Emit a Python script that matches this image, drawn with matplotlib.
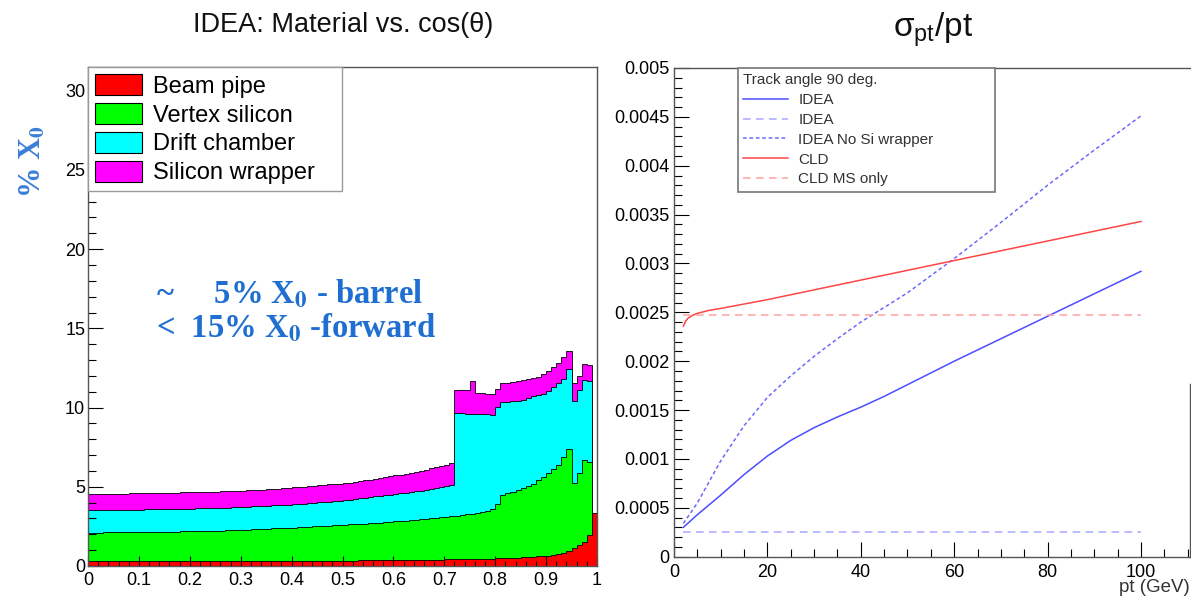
import numpy as np
import matplotlib
matplotlib.use("Agg")
import matplotlib.pyplot as plt
from matplotlib.patches import Patch
from matplotlib.ticker import MultipleLocator, FormatStrFormatter

plt.rcParams["font.family"] = ["Liberation Sans", "DejaVu Sans"]
plt.rcParams["mathtext.fontset"] = "custom"
plt.rcParams["mathtext.rm"] = "Liberation Sans"
plt.rcParams["mathtext.it"] = "Liberation Sans:italic"

# ---- left: material vs cos(theta), stacked tops per 0.01 bin ----
edges = np.linspace(0, 1, 101)
top_beampipe = [
    0.30, 0.30, 0.30, 0.30, 0.30, 0.30, 0.30, 0.30, 0.30, 0.30,
    0.30, 0.30, 0.30, 0.30, 0.30, 0.30, 0.30, 0.30, 0.31, 0.31,
    0.31, 0.31, 0.31, 0.31, 0.31, 0.31, 0.31, 0.31, 0.31, 0.31,
    0.31, 0.31, 0.32, 0.32, 0.32, 0.32, 0.32, 0.32, 0.32, 0.32,
    0.33, 0.33, 0.33, 0.33, 0.33, 0.33, 0.33, 0.33, 0.34, 0.34,
    0.34, 0.34, 0.34, 0.35, 0.35, 0.35, 0.36, 0.36, 0.36, 0.37,
    0.37, 0.37, 0.38, 0.38, 0.39, 0.39, 0.40, 0.40, 0.41, 0.41,
    0.42, 0.42, 0.43, 0.43, 0.44, 0.44, 0.45, 0.45, 0.46, 0.47,
    0.48, 0.49, 0.50, 0.51, 0.52, 0.54, 0.56, 0.58, 0.60, 0.63,
    0.66, 0.70, 0.75, 0.82, 0.95, 1.12, 1.35, 1.50, 1.95, 3.35]
top_vertex = [
    2.11, 2.11, 2.11, 2.12, 2.12, 2.12, 2.13, 2.13, 2.13, 2.14,
    2.14, 2.14, 2.15, 2.15, 2.16, 2.16, 2.17, 2.17, 2.18, 2.18,
    2.19, 2.20, 2.20, 2.21, 2.22, 2.23, 2.24, 2.25, 2.26, 2.27,
    2.28, 2.29, 2.31, 2.32, 2.34, 2.35, 2.37, 2.38, 2.40, 2.41,
    2.43, 2.45, 2.46, 2.48, 2.50, 2.51, 2.53, 2.55, 2.57, 2.58,
    2.60, 2.62, 2.64, 2.66, 2.68, 2.70, 2.72, 2.74, 2.77, 2.79,
    2.82, 2.84, 2.87, 2.89, 2.92, 2.95, 2.98, 3.01, 3.05, 3.08,
    3.12, 3.16, 3.18, 3.22, 3.26, 3.30, 3.36, 3.42, 3.50, 3.59,
    3.90, 4.50, 4.60, 4.70, 4.80, 4.90, 5.05, 5.20, 5.40, 5.60,
    5.90, 6.10, 6.39, 6.86, 7.38, 5.27, 5.84, 6.69, 6.54, 3.35]
top_drift = [
    3.52, 3.52, 3.52, 3.53, 3.53, 3.54, 3.54, 3.55, 3.55, 3.56,
    3.56, 3.57, 3.57, 3.58, 3.58, 3.59, 3.59, 3.60, 3.60, 3.61,
    3.62, 3.63, 3.64, 3.65, 3.66, 3.67, 3.68, 3.69, 3.70, 3.71,
    3.73, 3.74, 3.76, 3.77, 3.79, 3.80, 3.82, 3.84, 3.86, 3.88,
    3.90, 3.92, 3.94, 3.97, 3.99, 4.02, 4.04, 4.07, 4.10, 4.13,
    4.16, 4.19, 4.23, 4.27, 4.31, 4.35, 4.39, 4.43, 4.47, 4.51,
    4.55, 4.59, 4.63, 4.67, 4.71, 4.75, 4.80, 4.86, 4.92, 4.99,
    5.06, 5.13, 9.64, 9.63, 9.62, 9.61, 9.60, 9.58, 9.57, 9.56,
    10.02, 10.34, 10.38, 10.41, 10.44, 10.50, 10.60, 10.70, 10.78, 10.87,
    11.05, 11.30, 11.54, 11.80, 12.45, 10.40, 11.08, 11.75, 11.70, 3.35]
top_wrapper = [
    4.54, 4.54, 4.55, 4.55, 4.56, 4.56, 4.57, 4.57, 4.58, 4.58,
    4.59, 4.59, 4.60, 4.60, 4.61, 4.62, 4.62, 4.63, 4.64, 4.65,
    4.65, 4.66, 4.67, 4.68, 4.69, 4.70, 4.71, 4.72, 4.73, 4.74,
    4.75, 4.77, 4.78, 4.80, 4.82, 4.84, 4.86, 4.88, 4.91, 4.93,
    4.96, 4.98, 5.01, 5.03, 5.06, 5.09, 5.12, 5.15, 5.18, 5.20,
    5.23, 5.27, 5.31, 5.36, 5.40, 5.45, 5.50, 5.55, 5.61, 5.66,
    5.72, 5.77, 5.83, 5.89, 5.95, 6.01, 6.08, 6.16, 6.24, 6.32,
    6.40, 6.50, 11.12, 11.12, 11.12, 11.67, 10.95, 10.90, 10.85, 10.85,
    11.18, 11.54, 11.58, 11.62, 11.67, 11.72, 11.78, 11.85, 11.95, 12.13,
    12.30, 12.55, 12.80, 13.19, 13.57, 11.54, 12.02, 12.76, 12.66, 3.35]
mat_labels = ["Beam pipe", "Vertex silicon", "Drift chamber", "Silicon wrapper"]
mat_colors = ["#ff0000", "#00ff00", "#00ffff", "#ff00ff"]

# ---- right: sigma_pt/pt vs pt ----
pt_idea = [2, 5, 10, 15, 20, 25, 30, 35, 40, 45, 50, 60, 70, 80, 90, 100]
sig_idea = [0.00030, 0.00043, 0.00063, 0.00084, 0.00103, 0.00119, 0.00132, 0.00143,
            0.00153, 0.00164, 0.00176, 0.00200, 0.00223, 0.00246, 0.00269, 0.00292]
sig_nosi = [0.00034, 0.00055, 0.00098, 0.00134, 0.00163, 0.00185, 0.00205, 0.00223,
            0.00240, 0.00255, 0.00270, 0.00305, 0.00342, 0.00380, 0.00416, 0.00451]
pt_ms = [2, 100]
sig_idea_ms = [0.000257, 0.000257]
sig_cld_ms = [0.00247, 0.00247]
pt_cld = [2, 2.5, 3, 4, 5, 7.5, 10, 15, 20, 30, 40, 50, 60, 70, 80, 90, 100]
sig_cld = [0.00236, 0.00241, 0.00244, 0.00247, 0.00249, 0.00252, 0.00254, 0.002585,
           0.00263, 0.00273, 0.00283, 0.00293, 0.00303, 0.00313, 0.00323, 0.00333, 0.00343]

W, H = 1191, 607
fig = plt.figure(figsize=(W / 100, H / 100), dpi=100)
fig.patch.set_facecolor("white")

# left panel
ax1 = fig.add_axes([88 / W, (H - 566) / H, 509 / W, 499 / H])
tops = [top_beampipe, top_vertex, top_drift, top_wrapper]
for top, col in reversed(list(zip(tops, mat_colors))):
    ax1.stairs(top, edges, baseline=0, fill=True, facecolor=col,
               edgecolor="black", linewidth=0.6)
ax1.set_xlim(0, 1)
ax1.set_ylim(0, 31.5)
ax1.xaxis.set_major_locator(MultipleLocator(0.1))
ax1.xaxis.set_minor_locator(MultipleLocator(0.02))
ax1.yaxis.set_major_locator(MultipleLocator(5))
ax1.yaxis.set_minor_locator(MultipleLocator(1))
ax1.xaxis.set_major_formatter(FormatStrFormatter("%g"))
ax1.yaxis.set_major_formatter(FormatStrFormatter("%g"))
ax1.tick_params(axis="y", which="major", direction="in", length=10.5, width=0.8, labelsize=13, pad=2)
ax1.tick_params(axis="y", which="minor", direction="in", length=5.5, width=0.8)
ax1.tick_params(axis="x", which="major", direction="in", length=7, width=0.8, labelsize=13, pad=4)
ax1.tick_params(axis="x", which="minor", direction="in", length=3.5, width=0.8)
for s in ax1.spines.values():
    s.set_color("#555555"); s.set_linewidth(1.0)

hs = [Patch(facecolor=c, edgecolor="black", linewidth=0.8) for c in mat_colors]
leg1 = ax1.legend(hs, mat_labels, loc="upper left", bbox_to_anchor=(0, 0, 0.499, 1),
                  mode="expand", borderaxespad=0,
                  fontsize=17, fancybox=False, edgecolor="#999999", framealpha=1,
                  handlelength=2.0, handleheight=1.0, handletextpad=0.45,
                  labelspacing=0.22, borderpad=0.3)
leg1.get_frame().set_linewidth(1.0)

fig.text(343 / W, 1 - 25 / H, "IDEA: Material vs. cos(θ)", ha="center", va="center",
         fontsize=19.5, color="#111111")
fig.text(33 / W, 1 - 162 / H, "% X$_\\mathbf{0}$", rotation=90, ha="center", va="center",
         fontsize=22, fontweight="bold", family="Liberation Serif", math_fontfamily="stix",
         color="#3a7fd6")
blue = "#1f6fd2"
fig.text(156 / W, 1 - 303 / H, "~     5% X$_\\mathbf{0}$ - barrel", ha="left", va="baseline",
         fontsize=23.5, fontweight="bold", family="Liberation Serif", math_fontfamily="stix",
         color=blue)
fig.text(156 / W, 1 - 338 / H, "<  15% X$_\\mathbf{0}$ -forward", ha="left", va="baseline",
         fontsize=23.5, fontweight="bold", family="Liberation Serif", math_fontfamily="stix",
         color=blue)

# right panel
ax2 = fig.add_axes([674 / W, (H - 556.7) / H, 516 / W, 488.7 / H])
c_idea, c_idea_ms, c_nosi = "#4d4dff", "#a8a8ff", "#6a6aff"
c_cld, c_cld_ms = "#ff4545", "#ffa3a3"
l1, = ax2.plot(pt_idea, sig_idea, color=c_idea, lw=1.1)
l2, = ax2.plot(pt_ms, sig_idea_ms, color=c_idea_ms, lw=1.1, dashes=(5, 3.5))
l3, = ax2.plot(pt_idea, sig_nosi, color=c_nosi, lw=1.1, dashes=(2.4, 1.8))
l4, = ax2.plot(pt_cld, sig_cld, color=c_cld, lw=1.1)
l5, = ax2.plot(pt_ms, sig_cld_ms, color=c_cld_ms, lw=1.1, dashes=(5, 3.5))
ax2.set_xlim(0, 110.5)
ax2.set_ylim(0, 0.005)
ax2.xaxis.set_major_locator(MultipleLocator(20))
ax2.xaxis.set_minor_locator(MultipleLocator(5))
ax2.yaxis.set_major_locator(MultipleLocator(0.0005))
ax2.yaxis.set_minor_locator(MultipleLocator(0.0001))
ax2.xaxis.set_major_formatter(FormatStrFormatter("%g"))
ax2.yaxis.set_major_formatter(FormatStrFormatter("%g"))
ax2.tick_params(axis="y", which="major", direction="in", length=10.5, width=0.8, labelsize=13, pad=3)
ax2.tick_params(axis="y", which="minor", direction="in", length=5.5, width=0.8)
ax2.tick_params(axis="x", which="major", direction="in", length=11, width=0.8, labelsize=13, pad=5)
ax2.tick_params(axis="x", which="minor", direction="in", length=5.5, width=0.8)
for s in ax2.spines.values():
    s.set_color("#555555"); s.set_linewidth(1.0)
ax2.spines["right"].set_bounds(0, 0.00177)

leg2 = ax2.legend([l1, l2, l3, l4, l5],
                  ["IDEA", "IDEA", "IDEA No Si wrapper", "CLD", "CLD MS only"],
                  title="Track angle 90 deg.", alignment="left",
                  loc="upper left", bbox_to_anchor=(0.124, 0.0, 0.498, 1.0), mode="expand",
                  borderaxespad=0, fontsize=11, title_fontsize=11, fancybox=False,
                  edgecolor="#777777", framealpha=1, handlelength=2.9, handletextpad=0.7,
                  labelspacing=0.38, borderpad=0.35)
leg2.get_frame().set_linewidth(1.2)
for t in leg2.get_texts():
    t.set_color("#333333")
leg2.get_title().set_color("#333333")

fig.text(933 / W, 1 - 30 / H, "σ$_\\mathrm{pt}$/pt", ha="center", va="center",
         fontsize=24, color="#111111")
fig.text(1190 / W, 1 - 588 / H, "pt (GeV)", ha="right", va="center", fontsize=13.5,
         color="#333333")

fig.savefig("out.png", dpi=100, facecolor="white")
